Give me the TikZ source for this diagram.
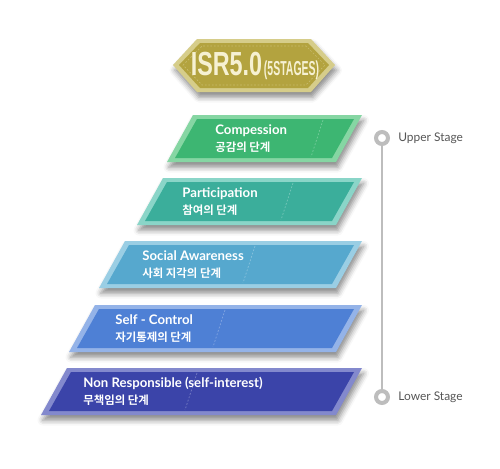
\documentclass[tikz,border=0pt]{standalone}
\usepackage{fontspec}
\usetikzlibrary{positioning,shadows.blur}

\newfontfamily\latinfont{Lato}
\newfontfamily\krfont{Noto Sans CJK KR Bold}
\newfontfamily\bannerfont{Liberation Sans}[FakeStretch=0.7]
\newfontfamily\bannersmall{Liberation Sans}[FakeStretch=0.52]

\definecolor{bannerin}{HTML}{B3A33F}
\definecolor{bannerout}{HTML}{D6CD8A}
\definecolor{bannertext}{HTML}{F6F1D2}
\definecolor{greenin}{HTML}{3DB672}
\definecolor{greenout}{HTML}{86D6A3}
\definecolor{tealin}{HTML}{3BAE9B}
\definecolor{tealout}{HTML}{8AD5C8}
\definecolor{skyin}{HTML}{56A8CE}
\definecolor{skyout}{HTML}{9ACEE4}
\definecolor{bluein}{HTML}{4E80D5}
\definecolor{blueout}{HTML}{94B3E8}
\definecolor{navyin}{HTML}{3B44A9}
\definecolor{navyout}{HTML}{8389CD}
\definecolor{stageline}{HTML}{BDBDBD}
\definecolor{stagetext}{HTML}{555555}

\pgfdeclarelayer{background}
\pgfsetlayers{background,main}

\begin{document}
\begin{tikzpicture} [
            x=0.02cm,
            y=-0.02cm,
            stage shadow/.style = {blur shadow={shadow xshift=1pt, shadow yshift=-3pt, shadow blur radius=3pt, shadow opacity=45}},
            stage text/.style = {anchor=west, align=left, text=white, inner sep=0pt},
            stage dot/.style = {circle, draw=stageline, line width=2.3pt, fill=white, minimum size=6.8pt, inner sep=0pt},
            stage label/.style = {font=\latinfont\fontsize{6.8}{8}\selectfont, text=stagetext, inner sep=0pt},
            stage line/.style = {draw=stageline, line width=1.2pt},
            stitch/.style = {draw=white, opacity=.3, dash pattern=on 1pt off 1pt, line width=.4pt}
        ]
        \useasboundingbox (0,0) rectangle (500,468);
        % First we draw the title banner
        \path[fill=bannerout, stage shadow] (173,65) -- (197,39) -- (311,39) -- (335,65) -- (311,92) -- (197,92) -- cycle;
        \path[fill=bannerin] (179,65) -- (200,43) -- (308,43) -- (329,65) -- (308,88) -- (200,88) -- cycle;
        \path[stitch, draw=bannertext] (183,65) -- (202,46) -- (306,46) -- (325,65) -- (306,85) -- (202,85) -- cycle;
        \node[text=bannertext, inner sep=0pt] (title) at (255,66)
            {{\bannerfont\bfseries\fontsize{19}{19}\selectfont ISR5.0}\kern1pt{\bannersmall\bfseries\fontsize{11.5}{11.5}\selectfont (5STAGES)}};
        % Then the five stages, top to bottom
        \foreach \tl/\yt/\tx/\fillin/\fillout/\en/\ko/\name in {
                193/115/215/greenin/greenout/Compession/공감의 단계/compession,
                163/178/182/tealin/tealout/Participation/참여의 단계/participation,
                125/241/142/skyin/skyout/Social Awareness/사회 지각의 단계/awareness,
                95/305/115/bluein/blueout/Self - Control/자기통제의 단계/control,
                67/368/83/navyin/navyout/Non Responsible (self-interest)/무책임의 단계/selfinterest} {
            \path[fill=\fillout, stage shadow] (\tl,\yt) -- (362,\yt) -- (336,{\yt+47}) -- ({\tl-26},{\yt+47}) -- cycle;
            \path[fill=\fillin] ({\tl+4},{\yt+4}) -- (354,{\yt+4}) -- (332,{\yt+43}) -- ({\tl-18},{\yt+43}) -- cycle;
            \path[stitch] ({\tl+130},{\yt+5}) -- ({\tl+118},{\yt+42});
            \node[stage text] (\name) at (\tx,{\yt+23.5})
                {{\latinfont\bfseries\fontsize{7.5}{9}\selectfont \en}\\[-2.5pt]{\krfont\fontsize{6.5}{9}\selectfont \ko}};
        }
        % Upper and lower ends of the scale
        \node[stage dot] (upper) at (382,138) {};
        \node[stage dot] (lower) at (382,397) {};
        \node[stage label, right=0.16cm of upper] (upperlabel) {Upper Stage};
        \node[stage label, right=0.16cm of lower] (lowerlabel) {Lower Stage};
        \begin{pgfonlayer}{background}
            \path[stage line] (upper) -- (lower);
        \end{pgfonlayer}
    \end{tikzpicture}
\end{document}
